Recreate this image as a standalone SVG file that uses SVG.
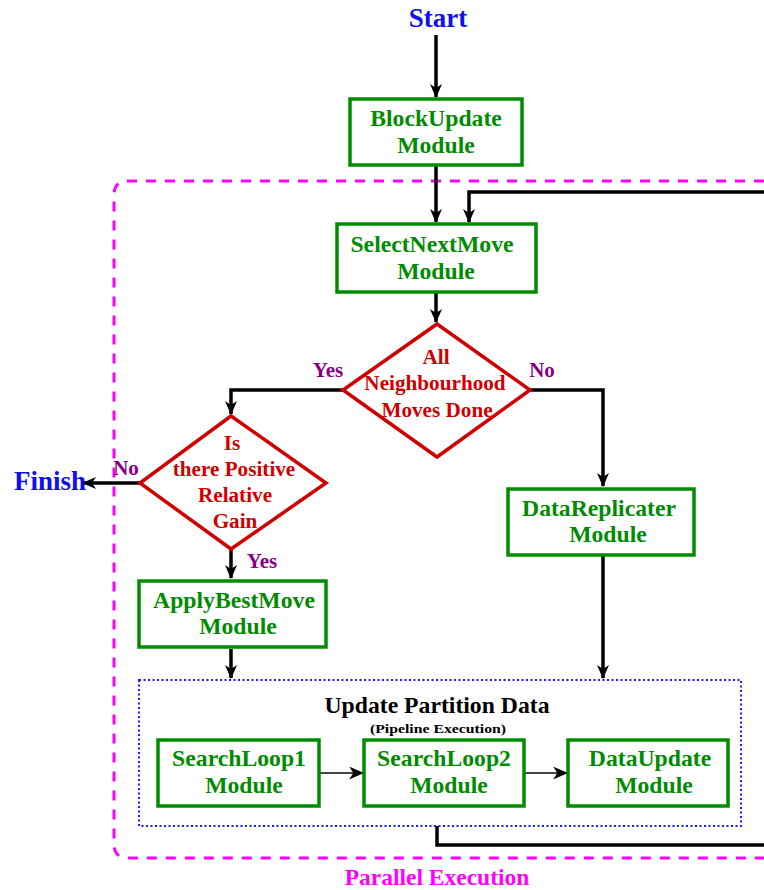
<svg xmlns="http://www.w3.org/2000/svg" width="764" height="890" viewBox="0 0 764 890">
  <defs>
    <marker id="arrow" viewBox="0 0 14 12" refX="13" refY="6" markerWidth="14" markerHeight="12" markerUnits="userSpaceOnUse" orient="auto">
      <path d="M0,0 L14,6 L0,12 L4,6 z" fill="#000"/>
    </marker>
    <marker id="arrowSmall" viewBox="0 0 14 12" refX="13" refY="6" markerWidth="15" markerHeight="13" markerUnits="userSpaceOnUse" orient="auto">
      <path d="M0,0 L14,6 L0,12 L4,6 z" fill="#000"/>
    </marker>
  </defs>
  <style>
    text { font-weight: bold; text-anchor: middle; }
    .box { fill: #fff; stroke: #008c00; stroke-width: 3.5; }
    .diamond { fill: #fff; stroke: #d00000; stroke-width: 3.5; }
    .green { fill: #008c00; font-size: 23.7px; }
    .red { fill: #d00000; font-size: 21.2px; }
    .label { fill: #880088; font-size: 21px; }
    .term { fill: #1010ee; font-size: 27px; }
    .flow { fill: none; stroke: #000; stroke-width: 3.5; marker-end: url(#arrow); }
    .plain { fill: none; stroke: #000; stroke-width: 3.5; }
    .thin { fill: none; stroke: #444; stroke-width: 2; marker-end: url(#arrowSmall); }
  </style>

  <g font-family="Liberation Serif, Times New Roman, serif">
  <!-- parallel region frame -->
  <path d="M764,181 L128,181 Q114,181 114,195 L114,844 Q114,858 128,858 L764,858" fill="none" stroke="#ff00ff" stroke-width="3" stroke-dasharray="10,9"/>
  <text x="437" y="885" style="fill:#ff00ff;font-size:23.5px">Parallel Execution</text>

  <!-- pipeline region -->
  <g id="pipeline">
    <rect x="139" y="680" width="602" height="146" fill="none" stroke="#1a1aff" stroke-width="2" stroke-dasharray="2,2.5"/>
    <text x="437" y="713" style="fill:#000;font-size:23.7px">Update Partition Data</text>
    <text x="438" y="733" style="fill:#000;font-size:13px" textLength="136" lengthAdjust="spacingAndGlyphs">(Pipeline Execution)</text>
  </g>

  <g id="connectors">
    <path class="flow" d="M436,35 L436,97"/>
    <path class="flow" d="M436,166 L436,222"/>
    <path class="flow" d="M764,192 L469,192 L469,222"/>
    <path class="flow" d="M436,292 L436,322"/>
    <path class="flow" d="M343,390 L231,390 L231,414"/>
    <path class="flow" d="M530,390 L603,390 L603,486"/>
    <path class="flow" d="M140,483 L83,483"/>
    <path class="flow" d="M231,549 L231,578"/>
    <path class="flow" d="M231,649 L231,678"/>
    <path class="flow" d="M603,555 L603,678"/>
    <path class="thin" d="M319,773 L363,773"/>
    <path class="thin" d="M524,773 L567,773"/>
    <path class="plain" d="M437,826 L437,845 L764,845"/>
  </g>

  <g id="start"><text x="438" y="27" class="term">Start</text></g>
  <g id="finish"><text x="50" y="490" class="term">Finish</text></g>

  <g id="blockUpdate">
    <rect class="box" x="350" y="99" width="172" height="66"/>
    <text class="green" x="436" y="126">BlockUpdate</text>
    <text class="green" x="436" y="153">Module</text>
  </g>

  <g id="selectNextMove">
    <rect class="box" x="337" y="224" width="199" height="68"/>
    <text class="green" x="432" y="252">SelectNextMove</text>
    <text class="green" x="436" y="279">Module</text>
  </g>

  <g id="allDone">
    <polygon class="diamond" points="437,324 530,390 437,457 343,390"/>
    <text class="red" x="436" y="364">All</text>
    <text class="red" x="435" y="390">Neighbourhood</text>
    <text class="red" x="437" y="417">Moves Done</text>
  </g>
  <text class="label" x="328" y="377">Yes</text>
  <text class="label" x="542" y="377">No</text>

  <g id="positiveGain">
    <polygon class="diamond" points="231,416 326,483 231,549 140,483"/>
    <text class="red" x="232" y="450">Is</text>
    <text class="red" x="234" y="476">there Positive</text>
    <text class="red" x="235" y="502">Relative</text>
    <text class="red" x="235" y="528">Gain</text>
  </g>
  <text class="label" x="126" y="475">No</text>
  <text class="label" x="262" y="568">Yes</text>

  <g id="dataReplicater">
    <rect class="box" x="508" y="489" width="186" height="66"/>
    <text class="green" x="599" y="516">DataReplicater</text>
    <text class="green" x="608" y="542">Module</text>
  </g>

  <g id="applyBestMove">
    <rect class="box" x="139" y="581" width="187" height="66"/>
    <text class="green" x="234" y="608">ApplyBestMove</text>
    <text class="green" x="238" y="634">Module</text>
  </g>

  <g id="searchLoop1">
    <rect class="box" x="158" y="740" width="161" height="66"/>
    <text class="green" x="239" y="766">SearchLoop1</text>
    <text class="green" x="244" y="793">Module</text>
  </g>

  <g id="searchLoop2">
    <rect class="box" x="364" y="740" width="160" height="66"/>
    <text class="green" x="444" y="766">SearchLoop2</text>
    <text class="green" x="449" y="793">Module</text>
  </g>

  <g id="dataUpdate">
    <rect class="box" x="568" y="740" width="160" height="66"/>
    <text class="green" x="650" y="766">DataUpdate</text>
    <text class="green" x="654" y="793">Module</text>
  </g>
  </g>
</svg>
